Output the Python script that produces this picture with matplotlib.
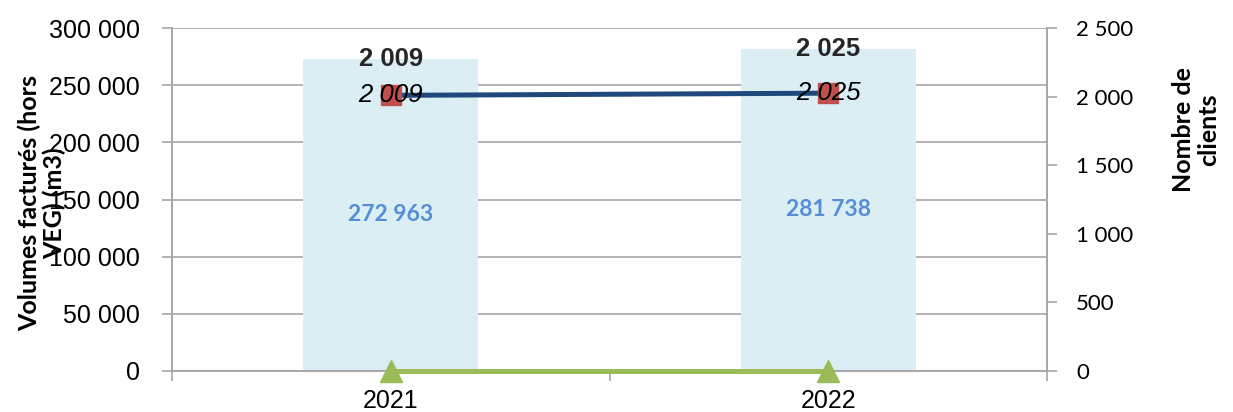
import matplotlib.pyplot as plt
import numpy as np

# data
years = ["2021", "2022"]
volumes = [272963, 281738]          # bars, left axis (m3)
clients = [2009, 2025]              # blue line, right axis
other = [0, 0]                      # green line, right axis

left_ticks = [0, 50000, 100000, 150000, 200000, 250000, 300000]
right_ticks = [0, 500, 1000, 1500, 2000, 2500]


def fmt(v):
    return f"{v:,}".replace(",", " ")


grey = "#A6A6A6"
fig = plt.figure(figsize=(12.33, 4.12), dpi=100)
ax = fig.add_axes([172 / 1233, 41 / 412, 875 / 1233, 343 / 412])
ax2 = ax.twinx()

x = np.arange(len(years))

# bars
ax.bar(x, volumes, width=0.4, color="#DAEEF3", zorder=2)
for xi, v in zip(x, volumes):
    ax.text(xi, v / 2, fmt(v), ha="center", va="center", color="#558ED5",
            fontsize=16.5, fontweight="bold", family="Lato", zorder=5)

# lines on the secondary axis
ax2.plot(x, clients, color="#1F497D", lw=3.6, zorder=3, solid_capstyle="butt")
ax2.plot(x, clients, ls="none", marker="s", ms=15, color="#C0504D", zorder=4)
ax2.plot(x, other, color="#9BBB59", lw=3.6, marker="^", ms=16, zorder=6,
         clip_on=False)

for xi, c, v in zip(x, clients, volumes):
    ax2.text(xi, c, fmt(c), ha="center", va="center", fontsize=18.5,
             style="italic", family="Liberation Sans", color="black", zorder=7)
    ax.text(xi, v, fmt(c), ha="center", va="center", fontsize=18.5,
            fontweight="bold", family="Liberation Sans", color="#262626", zorder=7)

# axes limits and ticks
ax.set_xlim(-0.5, 1.5)
ax.set_ylim(0, 300000)
ax2.set_ylim(0, 2500)
ax.set_yticks(left_ticks)
ax.set_yticklabels([fmt(t) for t in left_ticks], family="Liberation Sans",
                   fontsize=18)
ax2.set_yticks(right_ticks)
ax2.set_yticklabels([fmt(t) for t in right_ticks], family="Lato", fontsize=16)
ax.set_xticks(x)
ax.set_xticklabels(years, family="Liberation Sans", fontsize=18)
ax.set_xticks([-0.5, 0.5, 1.5], minor=True)
ax.tick_params(axis="x", which="major", length=0, pad=13)
ax.tick_params(axis="x", which="minor", length=7, color=grey, width=1.2)
ax.tick_params(axis="y", length=7, color=grey, width=1.2, pad=16)
ax2.tick_params(axis="y", length=7, color=grey, width=1.2, pad=14)

ax.yaxis.grid(True, color=grey, lw=1.2, zorder=0)
ax.set_axisbelow(True)
ax2.set_zorder(ax.get_zorder() + 1)
ax.patch.set_visible(False)

for a in (ax, ax2):
    a.spines["top"].set_visible(False)
    for s in ("left", "right", "bottom"):
        a.spines[s].set_color(grey)
        a.spines[s].set_linewidth(1.2)

fig.text(42 / 1233, 1 - 203 / 412, "Volumes facturés (hors\nVEG) (m3)",
         rotation=90, ha="center", va="center", fontsize=18, fontweight="bold",
         family="Lato", linespacing=1.1)
fig.text(1196 / 1233, 1 - 130 / 412, "Nombre de\nclients", rotation=90,
         ha="center", va="center", fontsize=18, fontweight="bold", family="Lato",
         linespacing=1.1)

fig.savefig("out.png", dpi=100)
